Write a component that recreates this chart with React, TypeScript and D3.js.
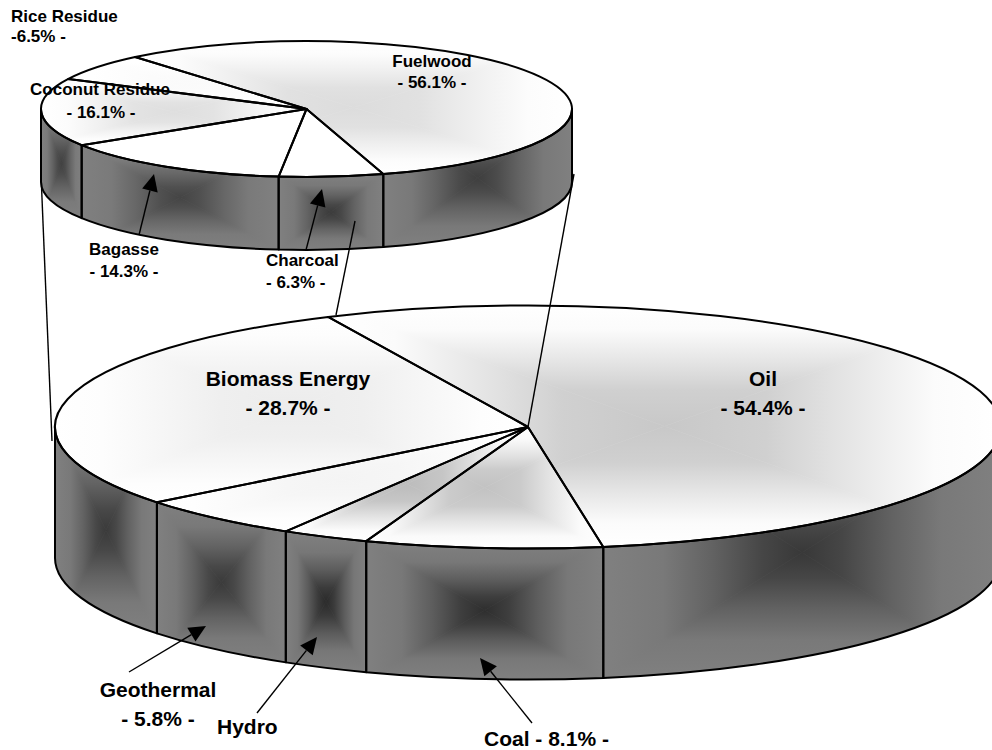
import React from "react";
import * as d3 from "d3";

// Energy shares, main disc
const mainLabels = ["Oil", "Coal", "Hydro", "Geothermal", "Biomass Energy"];
const mainValues = [54.4, 8.1, 3.0, 5.8, 28.7];
// Breakdown of biomass energy, upper disc
const biomassLabels = ["Fuelwood", "Charcoal", "Bagasse", "Coconut Residue", "Rice Residue"];
const biomassValues = [56.1, 6.3, 14.3, 16.1, 6.5];

// Colour at the middle of each slice's shading (top face, side face)
const mainTopCore = ["#c8c8c8", "#c2c2c2", "#bcbcbc", "#f4f4f4", "#ececec"];
const mainSideCore = ["#383838", "#2e2e2e", "#2a2a2a", "#3a3a3a", "#3a3a3a"];
const biomassTopCore = ["#dcdcdc", "#ffffff", "#ffffff", "#dedede", "#fafafa"];
const biomassSideCore = ["#3e3e3e", "#3a3a3a", "#444444", "#404040", "#404040"];

const WIDTH = 992;
const HEIGHT = 750;
const FONT = "'Liberation Sans', Arial, sans-serif";
const LARGE_TEXT = 21;
const SMALL_TEXT = 17;

type Disc = { cx: number; cy: number; rx: number; ry: number; depth: number };
const mainDisc: Disc = { cx: 528, cy: 427, rx: 473, ry: 121.5, depth: 131 };
const upperDisc: Disc = { cx: 306.5, cy: 109, rx: 265.5, ry: 68, depth: 73 };

const deg = (d: number) => (d * Math.PI) / 180;
const pt = (g: Disc, t: number): [number, number] => [g.cx + g.rx * Math.cos(t), g.cy + g.ry * Math.sin(t)];

type Box = { x0: number; x1: number; y0: number; y1: number };

// Extent of an ellipse arc, with an optional apex point and extrusion
function arcBox(g: Disc, t0: number, t1: number, withApex: boolean, depth: number): Box {
  const pts: [number, number][] = [pt(g, t0), pt(g, t1)];
  for (let k = -4; k <= 8; k++) {
    const t = (k * Math.PI) / 2;
    if (t > t0 && t < t1) pts.push(pt(g, t));
  }
  if (withApex) pts.push([g.cx, g.cy]);
  return {
    x0: d3.min(pts, (p) => p[0])!,
    x1: d3.max(pts, (p) => p[0])!,
    y0: d3.min(pts, (p) => p[1])!,
    y1: d3.max(pts, (p) => p[1])! + depth,
  };
}

// Rectangular "pyramid" shading: four mitred triangles meeting at the box centre
function Pyramid({ id, box, clip, edge, core, ramp }: { id: string; box: Box; clip: string; edge: string; core: string; ramp: number[][] }) {
  const mx = (box.x0 + box.x1) / 2;
  const my = (box.y0 + box.y1) / 2;
  const mix = d3.interpolateRgb(edge, core);
  const stops = ramp.map(([o, v], i) => <stop key={i} offset={o} stopColor={mix(v)} />);
  const sides = [
    { k: "t", a: [box.x0, box.y0], b: [box.x1, box.y0], g: [mx, box.y0, mx, my] },
    { k: "b", a: [box.x0, box.y1], b: [box.x1, box.y1], g: [mx, box.y1, mx, my] },
    { k: "l", a: [box.x0, box.y0], b: [box.x0, box.y1], g: [box.x0, my, mx, my] },
    { k: "r", a: [box.x1, box.y0], b: [box.x1, box.y1], g: [box.x1, my, mx, my] },
  ];
  return (
    <g>
      <defs>
        <clipPath id={`${id}-clip`}>
          <path d={clip} />
        </clipPath>
        {sides.map((s) => (
          <linearGradient key={s.k} id={`${id}-${s.k}`} gradientUnits="userSpaceOnUse" x1={s.g[0]} y1={s.g[1]} x2={s.g[2]} y2={s.g[3]}>
            {stops}
          </linearGradient>
        ))}
      </defs>
      <g clipPath={`url(#${id}-clip)`}>
        <rect x={box.x0 - 2} y={box.y0 - 2} width={box.x1 - box.x0 + 4} height={box.y1 - box.y0 + 4} fill={edge} />
        {sides.map((s) => (
          <path
            key={s.k}
            d={`M${s.a[0]},${s.a[1]}L${s.b[0]},${s.b[1]}L${mx},${my}Z`}
            fill={`url(#${id}-${s.k})`}
            stroke={`url(#${id}-${s.k})`}
            strokeWidth={0.6}
          />
        ))}
      </g>
    </g>
  );
}

const topRamp = [[0, 0], [0.2, 0.08], [0.45, 0.45], [0.7, 0.85], [1, 1]];
const sideRamp = [[0, 0], [0.3, 0.1], [0.55, 0.42], [0.8, 0.8], [1, 1]];

function DiscView({ name, disc, values, start, topCore, sideCore, stroke }: { name: string; disc: Disc; values: number[]; start: number; topCore: string[]; sideCore: string[]; stroke: number }) {
  const arcs = d3
    .pie<number>()
    .sort(null)
    .startAngle(deg(start))
    .endAngle(deg(start + 360))(values);
  const { rx, ry, cx, cy, depth } = disc;

  const slices = arcs.map((a, i) => {
    const t0 = a.startAngle - Math.PI / 2;
    const t1 = a.endAngle - Math.PI / 2;
    const [sx, sy] = pt(disc, t0);
    const [ex, ey] = pt(disc, t1);
    const large = t1 - t0 > Math.PI ? 1 : 0;
    const top = `M${cx},${cy}L${sx},${sy}A${rx},${ry} 0 ${large} 1 ${ex},${ey}Z`;
    const box = arcBox(disc, t0, t1, true, 0);

    // Only the part of the rim facing the viewer gets a wall
    let wall: { d: string; box: Box } | null = null;
    for (const shift of [-2, 0, 2]) {
      const w0 = Math.max(t0 + shift * Math.PI, 0);
      const w1 = Math.min(t1 + shift * Math.PI, Math.PI);
      if (w1 > w0 + 1e-6) {
        const [ax, ay] = pt(disc, w0);
        const [bx, by] = pt(disc, w1);
        wall = {
          d: `M${ax},${ay}A${rx},${ry} 0 0 1 ${bx},${by}L${bx},${by + depth}A${rx},${ry} 0 0 0 ${ax},${ay + depth}Z`,
          box: arcBox(disc, w0, w1, false, depth),
        };
      }
    }
    return { i, top, box, wall };
  });

  return (
    <g>
      {slices.map((s) => (
        <g key={`top-${s.i}`}>
          <Pyramid id={`${name}-top-${s.i}`} box={s.box} clip={s.top} edge="#ffffff" core={topCore[s.i]} ramp={topRamp} />
        </g>
      ))}
      {slices.map((s) =>
        s.wall ? (
          <g key={`wall-${s.i}`}>
            <Pyramid id={`${name}-wall-${s.i}`} box={s.wall.box} clip={s.wall.d} edge="#808080" core={sideCore[s.i]} ramp={sideRamp} />
          </g>
        ) : null
      )}
      {slices.map((s) => (
        <path key={`top-line-${s.i}`} d={s.top} fill="none" stroke="#000" strokeWidth={stroke} strokeLinejoin="round" />
      ))}
      {slices.map((s) =>
        s.wall ? <path key={`wall-line-${s.i}`} d={s.wall.d} fill="none" stroke="#000" strokeWidth={stroke} strokeLinejoin="round" /> : null
      )}
    </g>
  );
}

// Callout arrow: thin shaft from tail to a filled head at the tip
function Arrow({ x1, y1, x2, y2 }: { x1: number; y1: number; x2: number; y2: number }) {
  const L = Math.hypot(x2 - x1, y2 - y1);
  const ux = (x2 - x1) / L;
  const uy = (y2 - y1) / L;
  const hl = 17;
  const hw = 8;
  const bx = x2 - ux * hl;
  const by = y2 - uy * hl;
  return (
    <g>
      <line x1={x1} y1={y1} x2={bx} y2={by} stroke="#000" strokeWidth={1.4} />
      <polygon points={`${x2},${y2} ${bx - uy * hw},${by + ux * hw} ${bx + uy * hw},${by - ux * hw}`} fill="#000" />
    </g>
  );
}

function Label({ x, y, size, anchor = "middle", children }: { x: number; y: number; size: number; anchor?: string; children: React.ReactNode }) {
  return (
    <text x={x} y={y} fontSize={size} fontWeight="bold" fontFamily={FONT} textAnchor={anchor} fill="#000">
      {children}
    </text>
  );
}

export default function App() {
  return (
    <svg width={WIDTH} height={HEIGHT} viewBox={`0 0 ${WIDTH} ${HEIGHT}`} style={{ position: "absolute", left: 0, top: 0, background: "#fff" }}>
      <DiscView name="main" disc={mainDisc} values={mainValues} start={335} topCore={mainTopCore} sideCore={mainSideCore} stroke={2} />
      <DiscView name="upper" disc={upperDisc} values={biomassValues} start={319.8} topCore={biomassTopCore} sideCore={biomassSideCore} stroke={2} />

      {/* Leader lines tying the biomass slice to its breakdown */}
      <g stroke="#000" strokeWidth={1.4} fill="none">
        <line x1={41} y1={174} x2={52} y2={441} />
        <line x1={574} y1={174} x2={528} y2={427} />
        <line x1={355} y1={221} x2={336} y2={315} />
      </g>

      <Arrow x1={139} y1={235} x2={154} y2={174} />
      <Arrow x1={306} y1={250} x2={322} y2={189} />
      <Arrow x1={129} y1={672} x2={206} y2={626} />
      <Arrow x1={257} y1={713} x2={317} y2={637} />
      <Arrow x1={532} y1={723} x2={480} y2={658} />

      <Label x={288} y={386} size={LARGE_TEXT}>{mainLabels[4]}</Label>
      <Label x={288} y={415} size={LARGE_TEXT}>- {mainValues[4]}% -</Label>
      <Label x={763} y={386} size={LARGE_TEXT}>{mainLabels[0]}</Label>
      <Label x={763} y={415} size={LARGE_TEXT}>- {mainValues[0]}% -</Label>

      <Label x={432} y={67} size={SMALL_TEXT}>{biomassLabels[0]}</Label>
      <Label x={432} y={88} size={SMALL_TEXT}>- {biomassValues[0]}% -</Label>
      <Label x={100} y={95} size={SMALL_TEXT}>{biomassLabels[3]}</Label>
      <Label x={101} y={118} size={SMALL_TEXT}>- {biomassValues[3]}% -</Label>
      <Label x={11} y={22} size={SMALL_TEXT} anchor="start">{biomassLabels[4]}</Label>
      <Label x={11} y={42} size={SMALL_TEXT} anchor="start">-{biomassValues[4]}% -</Label>
      <Label x={124} y={255} size={SMALL_TEXT}>{biomassLabels[2]}</Label>
      <Label x={124} y={277} size={SMALL_TEXT}>- {biomassValues[2]}% -</Label>
      <Label x={266} y={266} size={SMALL_TEXT} anchor="start">{biomassLabels[1]}</Label>
      <Label x={266} y={288} size={SMALL_TEXT} anchor="start">- {biomassValues[1]}% -</Label>

      <Label x={158} y={697} size={LARGE_TEXT}>{mainLabels[3]}</Label>
      <Label x={158} y={726} size={LARGE_TEXT}>- {mainValues[3]}% -</Label>
      <Label x={217} y={734} size={LARGE_TEXT} anchor="start">{mainLabels[2]}</Label>
      <Label x={484} y={746} size={LARGE_TEXT} anchor="start">{mainLabels[1]} - {mainValues[1]}% -</Label>
    </svg>
  );
}
